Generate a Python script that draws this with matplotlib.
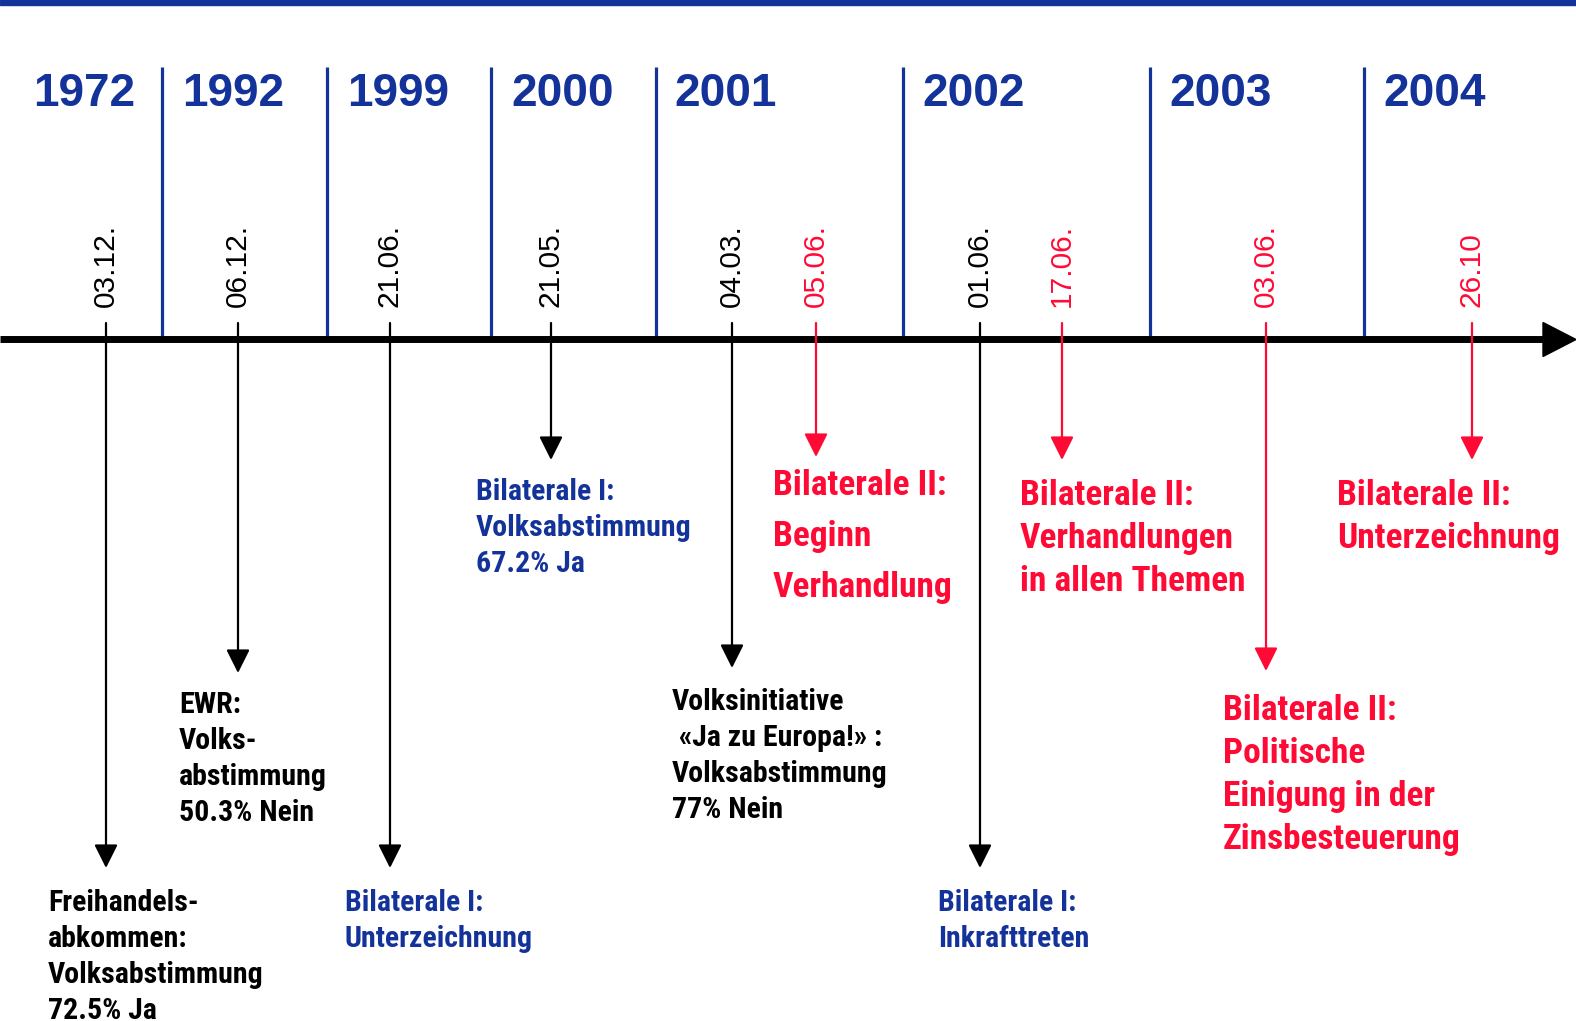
import matplotlib
matplotlib.use('Agg')
import matplotlib.pyplot as plt

BLUE = '#14339a'
RED = '#ff0a35'
BLACK = '#000000'

# Jahre und Ereignisse
years = ['1972', '1992', '1999', '2000', '2001', '2002', '2003', '2004']
dates = ['03.12.', '06.12.', '21.06.', '21.05.', '04.03.', '05.06.',
         '01.06.', '17.06.', '03.06.', '26.10']
date_colors = [BLACK, BLACK, BLACK, BLACK, BLACK, RED, BLACK, RED, RED, RED]
texts = [
    ['Freihandels-', 'abkommen:', 'Volksabstimmung', '72.5% Ja'],
    ['EWR:', 'Volks-', 'abstimmung', '50.3% Nein'],
    ['Bilaterale I:', 'Unterzeichnung'],
    ['Bilaterale I:', 'Volksabstimmung', '67.2% Ja'],
    ['Volksinitiative', ' «Ja zu Europa!» :', 'Volksabstimmung', '77% Nein'],
    ['Bilaterale II:', 'Beginn', 'Verhandlung'],
    ['Bilaterale I:', 'Inkrafttreten'],
    ['Bilaterale II:', 'Verhandlungen', 'in allen Themen'],
    ['Bilaterale II:', 'Politische', 'Einigung in der', 'Zinsbesteuerung'],
    ['Bilaterale II:', 'Unterzeichnung'],
]
text_colors = [BLACK, BLACK, BLUE, BLUE, BLACK, RED, BLUE, RED, RED, RED]

# Layout in Pixeln
year_x = [33, 182, 347, 511, 674, 922, 1169, 1383]
sep_x = [162, 327, 491, 656, 903, 1150, 1364]
event_x = [106, 238, 390, 551, 732, 816, 980, 1062, 1266, 1472]
tip_y = [868, 673, 868, 460, 668, 457, 868, 460, 671, 460]
text_x = [48, 179, 345, 476, 672, 773, 938, 1020, 1223, 1337]
text_y = [911, 713, 911, 500, 710, 495, 911, 505, 720, 505]
line_gap = [36, 36, 36, 36, 36, 51, 36, 43, 43, 43]

W, H = 1576, 1021
axis_y = 339.5
NARROW = ['Roboto Condensed', 'PT Sans Narrow', 'DejaVu Sans']
ARIAL = ['Liberation Sans', 'DejaVu Sans']

fig = plt.figure(figsize=(W / 100, H / 100), dpi=100)
ax = fig.add_axes([0, 0, 1, 1])
ax.set_xlim(0, W)
ax.set_ylim(H, 0)
ax.axis('off')

# Balken oben
ax.axhspan(0, 5, color=BLUE)

# Jahre + Trennlinien
for yr, x in zip(years, year_x):
    ax.text(x, 106, yr, fontsize=33, fontweight='bold', color=BLUE,
            family=ARIAL, ha='left', va='baseline')
for x in sep_x:
    ax.plot([x, x], [67, axis_y], color=BLUE, lw=2.3, solid_capstyle='butt')

# Zeitachse mit Pfeil
ax.plot([0, W - 30], [axis_y, axis_y], color=BLACK, lw=5, solid_capstyle='butt')
ax.fill([W - 33, W, W - 33], [axis_y - 17, axis_y, axis_y + 17], color=BLACK)

# Ereignisse
for i in range(len(dates)):
    x = event_x[i]
    c = date_colors[i]
    ax.text(x, 307, dates[i], rotation=90, fontsize=21.5, color=c,
            family=ARIAL, ha='center', va='bottom')
    ax.annotate('', xy=(x, tip_y[i]), xytext=(x, 323),
                arrowprops=dict(arrowstyle='-|>,head_length=0.72,head_width=0.36',
                                color=c, lw=1.6, mutation_scale=20,
                                shrinkA=0, shrinkB=0))
    size = 25.5 if text_colors[i] == RED else 21.5
    for j, line in enumerate(texts[i]):
        ax.text(text_x[i], text_y[i] + j * line_gap[i], line, fontsize=size,
                fontweight='bold', color=text_colors[i], family=NARROW,
                ha='left', va='baseline')

fig.savefig('out.png', dpi=100)
